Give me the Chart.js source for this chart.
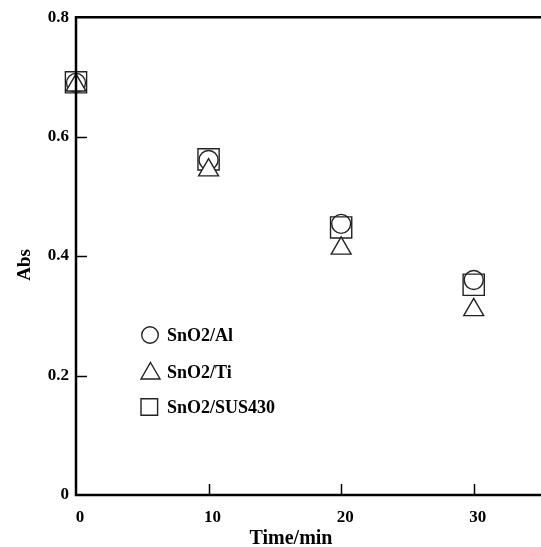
<!DOCTYPE html>
<html>
<head>
<meta charset="utf-8">
<script src="https://cdn.jsdelivr.net/npm/chart.js@4.4.0/dist/chart.umd.min.js"></script>
<style>
  body { margin: 0; background: #fff; }
  #wrap { width: 541px; height: 547px; }
</style>
</head>
<body>
<div id="wrap"><canvas id="myChart" width="541" height="547"></canvas></div>
<script>
'use strict';

// data
var times = [0, 10, 20, 30];
var absAl = [0.690, 0.561, 0.454, 0.360];
var absTi = [0.686, 0.544, 0.413, 0.310];
var absSus = [0.691, 0.562, 0.448, 0.352];
var xTicks = [0, 10, 20, 30];
var yTicks = [0, 0.2, 0.4, 0.6, 0.8];

function toPoints(ys) {
  return times.map(function(t, i) { return { x: t, y: ys[i] }; });
}

// draw a marker shaped like the chart's point styles
function marker(ctx, style, x, y, r) {
  ctx.beginPath();
  if (style === 'circle') {
    ctx.arc(x, y, r, 0, Math.PI * 2);
  } else if (style === 'triangle') {
    var a = -Math.PI / 2;
    ctx.moveTo(x + Math.cos(a) * r, y + Math.sin(a) * r);
    for (var k = 1; k < 3; k++) {
      a += Math.PI * 2 / 3;
      ctx.lineTo(x + Math.cos(a) * r, y + Math.sin(a) * r);
    }
    ctx.closePath();
  } else {
    ctx.rect(x - r, y - r, r * 2, r * 2);
  }
  ctx.fillStyle = '#fff';
  ctx.fill();
  ctx.stroke();
}

// frame, inward ticks, axis titles and legend
var decorations = {
  id: 'decorations',
  afterDraw: function(chart) {
    var ctx = chart.ctx;
    var a = chart.chartArea;
    var xs = chart.scales.x;
    var ys = chart.scales.y;
    ctx.save();
    ctx.strokeStyle = '#000';
    ctx.lineWidth = 2.5;
    ctx.beginPath();
    ctx.moveTo(541, a.top);
    ctx.lineTo(a.left, a.top);
    ctx.lineTo(a.left, a.bottom);
    ctx.lineTo(541, a.bottom);
    ctx.stroke();

    ctx.lineWidth = 1.5;
    ctx.beginPath();
    xTicks.forEach(function(v) {
      if (v === 0) return;
      var px = Math.round(xs.getPixelForValue(v)) + 0.5;
      ctx.moveTo(px, a.bottom);
      ctx.lineTo(px, a.bottom - 11);
    });
    yTicks.forEach(function(v) {
      if (v === 0 || v === 0.8) return;
      var py = Math.round(ys.getPixelForValue(v)) + 0.5;
      ctx.moveTo(a.left, py);
      ctx.lineTo(a.left + 11, py);
    });
    ctx.stroke();

    // axis titles
    ctx.fillStyle = '#000';
    ctx.textAlign = 'center';
    ctx.textBaseline = 'middle';
    ctx.font = 'bold 20px "Liberation Serif", serif';
    ctx.fillText('Time/min', 291, 539);
    ctx.save();
    ctx.translate(25, 265);
    ctx.rotate(-Math.PI / 2);
    ctx.font = 'bold 19px "Liberation Serif", serif';
    ctx.fillText('Abs', 0, 0);
    ctx.restore();

    // legend
    ctx.strokeStyle = '#222';
    ctx.lineWidth = 1.4;
    marker(ctx, 'circle', 150, 335, 8.3);
    marker(ctx, 'triangle', 150.5, 373.5, 11);
    marker(ctx, 'rect', 149.3, 407, 8.3);
    ctx.fillStyle = '#000';
    ctx.textAlign = 'left';
    ctx.font = 'bold 18px "Liberation Serif", serif';
    ctx.fillText('SnO2/Al', 167, 336);
    ctx.fillText('SnO2/Ti', 167, 373);
    ctx.fillText('SnO2/SUS430', 167, 408);
    ctx.restore();
  }
};

var ctx = document.getElementById('myChart').getContext('2d');

var chart = new Chart(ctx, {
  type: 'scatter',
  data: {
    datasets: [{
      label: 'SnO2/Ti',
      data: toPoints(absTi),
      pointStyle: 'triangle',
      pointRadius: 11.5,
      backgroundColor: '#fff',
      borderColor: '#222',
      borderWidth: 1.4,
      clip: false
    },
    {
      label: 'SnO2/Al',
      data: toPoints(absAl),
      pointStyle: 'circle',
      pointRadius: 9.5,
      backgroundColor: 'rgba(255,255,255,0)',
      borderColor: '#222',
      borderWidth: 1.4,
      clip: false
    },
    {
      label: 'SnO2/SUS430',
      data: toPoints(absSus),
      pointStyle: 'rect',
      pointRadius: 15,
      backgroundColor: 'rgba(255,255,255,0)',
      borderColor: '#222',
      borderWidth: 1.4,
      clip: false
    }]
  },
  options: {
    responsive: false,
    animation: false,
    layout: { autoPadding: false, padding: { top: 15, right: 1, left: 0, bottom: 0 } },
    plugins: {
      legend: { display: false },
      tooltip: { enabled: false }
    },
    scales: {
      x: {
        type: 'linear',
        min: 0,
        max: 35,
        grid: { display: false, drawTicks: false },
        border: { display: false },
        afterFit: function(scale) { scale.height = 52; },
        afterBuildTicks: function(scale) {
          scale.ticks = xTicks.map(function(v) { return { value: v }; });
        },
        ticks: {
          color: '#000',
          padding: 12,
          labelOffset: 4,
          maxRotation: 0,
          font: { family: '"Liberation Serif", serif', size: 17, weight: 'bold' },
          callback: function(v) { return String(v); }
        }
      },
      y: {
        min: 0,
        max: 0.8,
        grid: { display: false, drawTicks: false },
        border: { display: false },
        afterFit: function(scale) { scale.width = 76; },
        afterBuildTicks: function(scale) {
          scale.ticks = yTicks.map(function(v) { return { value: v }; });
        },
        ticks: {
          color: '#000',
          padding: 7,
          font: { family: '"Liberation Serif", serif', size: 17, weight: 'bold' },
          callback: function(v) { return v === 0 ? '0' : v.toFixed(1); }
        }
      }
    }
  },
  plugins: [decorations]
});
</script>
</body>
</html>
